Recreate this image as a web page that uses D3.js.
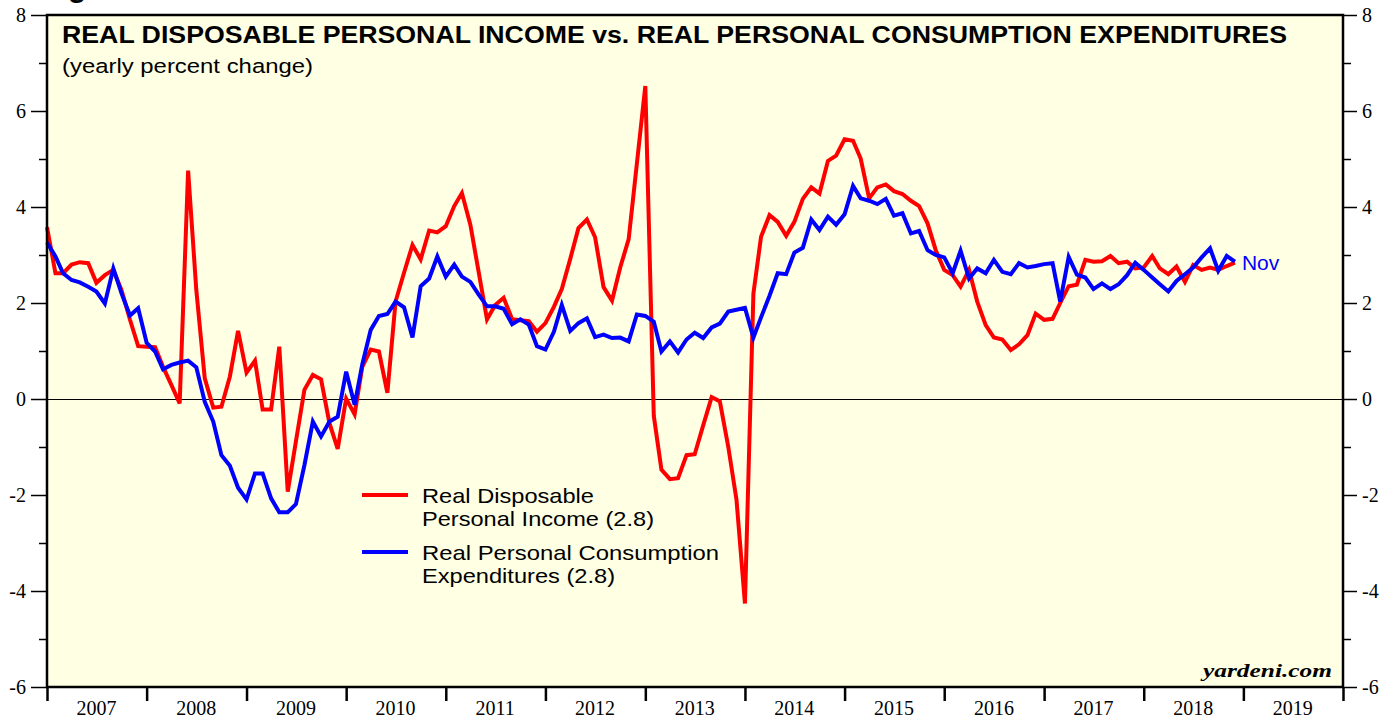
<!DOCTYPE html>
<html>
<head>
<meta charset="utf-8">
<script src="https://cdn.jsdelivr.net/npm/d3@7"></script>
<style>
  body { margin: 0; background: #ffffff; }
</style>
</head>
<body>
<div id="svg-area"></div>
<script>
var svgWidth = 1395;
var svgHeight = 719;

// monthly data, Dec 2006 .. Nov 2018 (plotted at month end)
var firstMonth = new Date(2006, 11, 1);
var lastMonth = new Date(2018, 10, 1);

// Real Disposable Personal Income, yearly % change
var income = [
  3.58, 2.62, 2.62, 2.80, 2.85, 2.83, 2.42, 2.58, 2.69, 2.27, 1.65, 1.10,
  1.09, 1.08, 0.67, 0.29, -0.09, 4.76, 2.27, 0.43, -0.18, -0.16, 0.47, 1.42,
  0.55, 0.80, -0.22, -0.22, 1.09, -1.93, -0.88, 0.19, 0.50, 0.41, -0.51, -1.04,
  0.01, -0.32, 0.67, 1.03, 0.99, 0.13, 2.03, 2.63, 3.21, 2.91, 3.51, 3.47,
  3.60, 4.02, 4.29, 3.63, 2.66, 1.66, 1.96, 2.11, 1.66, 1.64, 1.62, 1.40,
  1.58, 1.92, 2.29, 2.92, 3.56, 3.74, 3.37, 2.33, 2.05, 2.74, 3.33, 4.90,
  6.52, -0.35, -1.47, -1.67, -1.65, -1.17, -1.15, -0.55, 0.04, -0.05, -1.00, -2.10,
  -4.26, 2.20, 3.38, 3.83, 3.69, 3.40, 3.69, 4.17, 4.41, 4.28, 4.96, 5.07,
  5.41, 5.38, 5.01, 4.18, 4.41, 4.47, 4.33, 4.27, 4.13, 4.02, 3.66, 3.10,
  2.69, 2.58, 2.34, 2.69, 2.03, 1.54, 1.28, 1.24, 1.02, 1.14, 1.33, 1.78,
  1.65, 1.67, 2.00, 2.35, 2.38, 2.90, 2.86, 2.87, 2.98, 2.83, 2.86, 2.72,
  2.74, 2.98, 2.72, 2.60, 2.76, 2.44, 2.79, 2.69, 2.74, 2.69, 2.77, 2.84
];

// Real Personal Consumption Expenditures, yearly % change
var consumption = [
  3.26, 2.97, 2.62, 2.48, 2.43, 2.34, 2.24, 1.99, 2.72, 2.20, 1.74, 1.89,
  1.17, 0.99, 0.62, 0.71, 0.76, 0.80, 0.66, -0.06, -0.47, -1.17, -1.39, -1.85,
  -2.09, -1.55, -1.55, -2.07, -2.36, -2.36, -2.19, -1.38, -0.47, -0.78, -0.47, -0.37,
  0.57, -0.12, 0.72, 1.44, 1.73, 1.77, 2.03, 1.91, 1.28, 2.35, 2.51, 2.97,
  2.55, 2.80, 2.55, 2.44, 2.18, 1.93, 1.93, 1.88, 1.56, 1.66, 1.55, 1.10,
  1.03, 1.40, 1.96, 1.42, 1.58, 1.68, 1.29, 1.34, 1.27, 1.28, 1.20, 1.76,
  1.73, 1.61, 0.99, 1.20, 0.97, 1.24, 1.38, 1.27, 1.49, 1.57, 1.82, 1.86,
  1.90, 1.28, 1.70, 2.15, 2.62, 2.60, 3.05, 3.15, 3.74, 3.52, 3.80, 3.63,
  3.85, 4.44, 4.18, 4.13, 4.06, 4.17, 3.82, 3.87, 3.45, 3.50, 3.10, 3.00,
  2.95, 2.62, 3.09, 2.51, 2.72, 2.62, 2.90, 2.65, 2.60, 2.83, 2.74, 2.77,
  2.81, 2.83, 2.03, 2.96, 2.59, 2.53, 2.29, 2.41, 2.29, 2.39, 2.58, 2.84,
  2.69, 2.53, 2.39, 2.24, 2.46, 2.60, 2.74, 2.95, 3.14, 2.67, 2.98, 2.86
];

var yMajorTicks = [-6, -4, -2, 0, 2, 4, 6, 8];
var yMinorTicks = [-5, -3, -1, 1, 3, 5, 7];
var yearLabels = [2007, 2008, 2009, 2010, 2011, 2012, 2013, 2014, 2015, 2016, 2017, 2018, 2019];

var titleText = "REAL DISPOSABLE PERSONAL INCOME vs. REAL PERSONAL CONSUMPTION EXPENDITURES";
var subtitleText = "(yearly percent change)";
var legendIncome = ["Real Disposable", "Personal Income (2.8)"];
var legendConsumption = ["Real Personal Consumption", "Expenditures (2.8)"];
var lastLabel = "Nov";

// plot frame (note: "top" is reserved on window, so use plot* names)
var plotLeft = 47, plotRight = 1343, plotTop = 15, plotBottom = 687;

var svg = d3.select("#svg-area")
  .append("svg")
  .attr("width", svgWidth)
  .attr("height", svgHeight);

var sans = "'Liberation Sans', Arial, sans-serif";
var serif = "'Liberation Serif', 'Times New Roman', serif";

var xScale = d3.scaleTime()
  .domain([new Date(2007, 0, 1), new Date(2020, 0, 1)])
  .range([plotLeft, plotRight]);

var yScale = d3.scaleLinear()
  .domain([-6, 8])
  .range([plotBottom, plotTop]);

// plain hyphen for negatives, like the original
var tickLabel = d => String(d);

// join months with values
var months = d3.timeMonth.range(firstMonth, d3.timeMonth.offset(lastMonth, 1));
var incomeData = months.map(function(m, i) {
  return { date: d3.timeMonth.offset(m, 1), value: income[i] };
});
var consumptionData = months.map(function(m, i) {
  return { date: d3.timeMonth.offset(m, 1), value: consumption[i] };
});

// cut-off text at very top
svg.append("text")
  .attr("x", 68)
  .attr("y", -3)
  .attr("font-family", sans)
  .attr("font-weight", "bold")
  .attr("font-size", 30)
  .text("g");

// plot background
svg.append("rect")
  .attr("x", plotLeft)
  .attr("y", plotTop)
  .attr("width", plotRight - plotLeft)
  .attr("height", plotBottom - plotTop)
  .attr("fill", "#ffffe4");

// left axis
svg.append("g")
  .attr("transform", "translate(" + plotLeft + ",0)")
  .call(d3.axisLeft(yScale).tickValues(yMajorTicks).tickSize(16).tickPadding(5).tickFormat(tickLabel));
svg.append("g")
  .attr("transform", "translate(" + plotLeft + ",0)")
  .call(d3.axisLeft(yScale).tickValues(yMinorTicks).tickSize(8).tickFormat(""));

// right axis
svg.append("g")
  .attr("transform", "translate(" + plotRight + ",0)")
  .call(d3.axisRight(yScale).tickValues(yMajorTicks).tickSize(14).tickPadding(5).tickFormat(tickLabel));
svg.append("g")
  .attr("transform", "translate(" + plotRight + ",0)")
  .call(d3.axisRight(yScale).tickValues(yMinorTicks).tickSize(8).tickFormat(""));

// bottom axis, ticks at year boundaries
var xAxis = svg.append("g")
  .attr("transform", "translate(0," + plotBottom + ")")
  .call(d3.axisBottom(xScale).ticks(d3.timeYear.every(1)).tickSize(14).tickFormat(""));

svg.selectAll(".domain").remove();
svg.selectAll(".tick line").attr("stroke", "#000").attr("stroke-width", 1.5);
xAxis.selectAll(".tick line").attr("stroke-width", 2.5);
svg.selectAll(".tick text")
  .attr("font-family", serif)
  .attr("font-size", 20)
  .attr("fill", "#000");

// year labels centred in each year
svg.append("g")
  .selectAll("text")
  .data(yearLabels)
  .enter()
  .append("text")
  .attr("x", function(d) { return xScale(new Date(d, 6, 1)); })
  .attr("y", 715)
  .attr("text-anchor", "middle")
  .attr("font-family", serif)
  .attr("font-size", 20)
  .text(function(d) { return d; });

// zero line
svg.append("line")
  .attr("x1", plotLeft)
  .attr("x2", plotRight)
  .attr("y1", yScale(0) + 0.5)
  .attr("y2", yScale(0) + 0.5)
  .attr("stroke", "#000")
  .attr("stroke-width", 1)
  .attr("shape-rendering", "crispEdges");

var lineGenerator = d3.line()
  .x(d => xScale(d.date))
  .y(d => yScale(d.value));

svg.append("path")
  .attr("fill", "none")
  .attr("stroke", "#ff0000")
  .attr("stroke-width", 4)
  .attr("d", lineGenerator(incomeData));

svg.append("path")
  .attr("fill", "none")
  .attr("stroke", "#0000ff")
  .attr("stroke-width", 4)
  .attr("d", lineGenerator(consumptionData));

// last month label
var lastPoint = consumptionData[consumptionData.length - 1];
svg.append("text")
  .attr("x", xScale(lastPoint.date) + 7)
  .attr("y", yScale(lastPoint.value) + 8)
  .attr("font-family", sans)
  .attr("font-size", 21)
  .attr("fill", "#0000ff")
  .text(lastLabel);

// frame
svg.append("rect")
  .attr("x", plotLeft)
  .attr("y", plotTop)
  .attr("width", plotRight - plotLeft)
  .attr("height", plotBottom - plotTop)
  .attr("fill", "none")
  .attr("stroke", "#000")
  .attr("stroke-width", 2.5);

// title
svg.append("text")
  .attr("x", 62)
  .attr("y", 43)
  .attr("font-family", sans)
  .attr("font-weight", "bold")
  .attr("font-size", 23.5)
  .attr("textLength", 1225)
  .attr("lengthAdjust", "spacingAndGlyphs")
  .text(titleText);

svg.append("text")
  .attr("x", 62)
  .attr("y", 73)
  .attr("font-family", sans)
  .attr("font-size", 20.5)
  .attr("textLength", 251)
  .attr("lengthAdjust", "spacingAndGlyphs")
  .text(subtitleText);

// legend
var legend = svg.append("g");
legend.append("line")
  .attr("x1", 362).attr("x2", 408)
  .attr("y1", 495).attr("y2", 495)
  .attr("stroke", "#ff0000").attr("stroke-width", 4);
legend.append("line")
  .attr("x1", 362).attr("x2", 408)
  .attr("y1", 552).attr("y2", 552)
  .attr("stroke", "#0000ff").attr("stroke-width", 4);

var legendRows = [
  { text: legendIncome[0], y: 503, w: 172 },
  { text: legendIncome[1], y: 526, w: 232 },
  { text: legendConsumption[0], y: 560, w: 297 },
  { text: legendConsumption[1], y: 583, w: 193 }
];
legend.selectAll("text")
  .data(legendRows)
  .enter()
  .append("text")
  .attr("x", 422)
  .attr("y", d => d.y)
  .attr("font-family", sans)
  .attr("font-size", 21)
  .attr("textLength", d => d.w)
  .attr("lengthAdjust", "spacingAndGlyphs")
  .text(d => d.text);

// source
svg.append("text")
  .attr("x", 1203)
  .attr("y", 677)
  .attr("font-family", serif)
  .attr("font-weight", "bold")
  .attr("font-style", "italic")
  .attr("font-size", 19)
  .attr("textLength", 129)
  .attr("lengthAdjust", "spacingAndGlyphs")
  .text("yardeni.com");
</script>
</body>
</html>
